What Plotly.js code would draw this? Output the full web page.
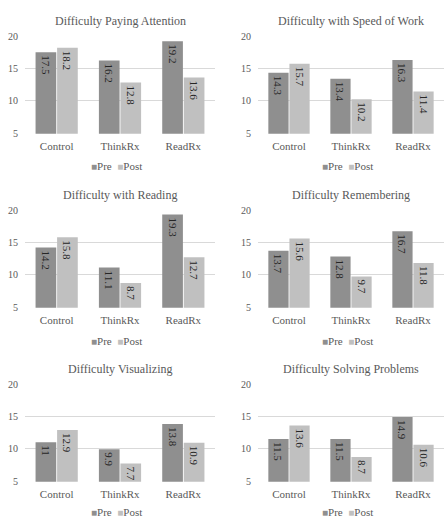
<!DOCTYPE html>
<html>
<head>
<meta charset="utf-8">
<script src="https://cdn.plot.ly/plotly-3.0.1.min.js"></script>
<style>html,body{margin:0;padding:0;background:#fff;}#chart{width:444px;height:520px;}</style>
</head>
<body>
<div id="chart"></div>
<script>
const categories = ['Control', 'ThinkRx', 'ReadRx'];
const seriesNames = ['Pre', 'Post'];
const panelTitles = [
  'Difficulty Paying Attention',
  'Difficulty with Speed of Work',
  'Difficulty with Reading',
  'Difficulty Remembering',
  'Difficulty Visualizing',
  'Difficulty Solving Problems'
];
const prePaying = [17.5, 16.2, 19.2];
const postPaying = [18.2, 12.8, 13.6];
const preSpeed = [14.3, 13.4, 16.3];
const postSpeed = [15.7, 10.2, 11.4];
const preReading = [14.2, 11.1, 19.3];
const postReading = [15.8, 8.7, 12.7];
const preRemembering = [13.7, 12.8, 16.7];
const postRemembering = [15.6, 9.7, 11.8];
const preVisualizing = [11, 9.9, 13.8];
const postVisualizing = [12.9, 7.7, 10.9];
const preSolving = [11.5, 11.5, 14.9];
const postSolving = [13.6, 8.7, 10.6];
const yTicks = [5, 10, 15, 20];

const preSets = [prePaying, preSpeed, preReading, preRemembering, preVisualizing, preSolving];
const postSets = [postPaying, postSpeed, postReading, postRemembering, postVisualizing, postSolving];

const W = 444, H = 520;
const PRE_COLOR = '#8f8f8f', POST_COLOR = '#c0c0c0';
const SERIF = '"Liberation Serif", "Times New Roman", serif';
const cols = [[25, 215], [258, 444]];
const rows = [[36, 133], [210, 307], [384, 481]];
const titleY = [21, 195, 369];
const legendY = [166, 341, 512];
const legendX = [117, 347];
const yMin = 4.9, yMax = 20.1;

const data = [];
const layout = {
  width: W, height: H,
  margin: {l: 0, r: 0, t: 0, b: 0},
  paper_bgcolor: '#ffffff', plot_bgcolor: '#ffffff',
  showlegend: false,
  barmode: 'group', bargap: 0.32, bargroupgap: 0.04,
  font: {family: SERIF, color: '#595959'},
  annotations: []
};

for (let i = 0; i < 6; i++) {
  const r = Math.floor(i / 2), c = i % 2;
  const k = (rows[r][1] - rows[r][0]) / 15;
  const topPx = rows[r][0] - (yMax - 20) * k;
  const botPx = rows[r][1] + (5 - yMin) * k;
  const sfx = i === 0 ? '' : String(i + 1);
  const xa = 'x' + sfx, ya = 'y' + sfx;
  layout['xaxis' + sfx] = {
    domain: [cols[c][0] / W, cols[c][1] / W],
    anchor: ya,
    type: 'category',
    showgrid: false, zeroline: false, showline: false, ticks: '',
    tickfont: {family: SERIF, size: 11, color: '#595959'},
    ticklabelstandoff: 4,
    fixedrange: true
  };
  layout['yaxis' + sfx] = {
    domain: [1 - botPx / H, 1 - topPx / H],
    anchor: xa,
    range: [yMin, yMax],
    tickvals: yTicks,
    ticktext: yTicks.map(String),
    showgrid: true, gridcolor: '#d9d9d9', gridwidth: 1,
    zeroline: false, showline: false, ticks: '',
    tickfont: {family: SERIF, size: 10, color: '#595959'},
    ticklabelstandoff: 6,
    fixedrange: true
  };
  const sets = [preSets[i], postSets[i]];
  const colors = [PRE_COLOR, POST_COLOR];
  for (let s = 0; s < 2; s++) {
    data.push({
      type: 'bar',
      name: seriesNames[s],
      x: categories,
      y: sets[s],
      xaxis: xa, yaxis: ya,
      marker: {color: colors[s], line: {width: 0}},
      text: sets[s].map(String),
      textposition: 'inside',
      insidetextanchor: 'end',
      textangle: 90,
      textfont: {family: SERIF, size: 11, color: '#262626'},
      cliponaxis: true,
      hoverinfo: 'skip'
    });
  }
  layout.annotations.push({
    text: panelTitles[i],
    xref: 'paper', yref: 'paper',
    x: (cols[c][0] + cols[c][1]) / 2 / W,
    y: 1 - titleY[r] / H,
    xanchor: 'center', yanchor: 'middle',
    showarrow: false,
    font: {family: SERIF, size: 12, color: '#595959'}
  });
  layout.annotations.push({
    text: '<span style="color:' + PRE_COLOR + ';font-size:10px">■</span>' + seriesNames[0] +
          '  <span style="color:' + POST_COLOR + ';font-size:10px">■</span>' + seriesNames[1],
    xref: 'paper', yref: 'paper',
    x: legendX[c] / W,
    y: 1 - legendY[r] / H,
    xanchor: 'center', yanchor: 'middle',
    showarrow: false,
    font: {family: SERIF, size: 11, color: '#595959'}
  });
}

Plotly.newPlot('chart', data, layout, {staticPlot: true, displayModeBar: false});
</script>
</body>
</html>
